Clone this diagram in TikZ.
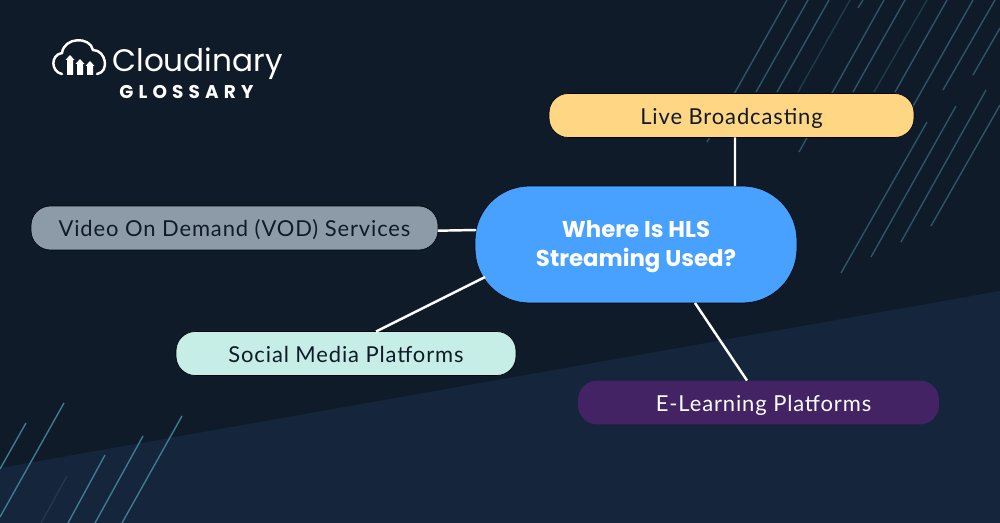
\documentclass[tikz,border=0pt]{standalone}
\usepackage{fontspec}
\setmainfont{Lato}[LetterSpace=4]
\newfontfamily\logofont{Poppins}
\newfontfamily\glossfont{Poppins}[LetterSpace=28]
\usetikzlibrary{calc}
\definecolor{nightbg}{HTML}{0F1B29}
\definecolor{bandbg}{HTML}{14253C}
\definecolor{streakcol}{HTML}{2C5567}
\definecolor{faintcol}{HTML}{1E3A4B}
\definecolor{brightcol}{HTML}{3F7B90}
\definecolor{hubcol}{HTML}{48A1FF}
\definecolor{livecol}{HTML}{FFD683}
\definecolor{vodcol}{HTML}{8D9BA8}
\definecolor{socialcol}{HTML}{C6EDE6}
\definecolor{learncol}{HTML}{432364}
\tikzset{
  streak/.style={draw=streakcol,line width=0.8pt},
  faint/.style={draw=faintcol,line width=0.8pt},
  bright/.style={draw=brightcol,line width=0.8pt},
  link/.style={draw=white,line width=1.4pt},
  pill/.style={rounded corners=11pt,draw=black!70!nightbg,line width=0.4pt,inner sep=0pt,outer sep=0pt,
    minimum height=0.88cm,text height=10pt,text depth=0pt,font=\fontsize{12.5pt}{14pt}\selectfont,text=nightbg},
  hubnode/.style={pill,text height=,text depth=,rounded corners=31pt,fill=hubcol,text=white,minimum width=6.44cm,minimum height=2.34cm,
    align=center,font=\logofont\bfseries\fontsize{13pt}{16.5pt}\selectfont},
  logoshape/.style={draw=white,line width=1.4pt,line cap=round},
  roofshape/.style={fill=white,draw=none}
}
\begin{document}
\begin{tikzpicture}[x=0.02cm,y=-0.02cm]
 \useasboundingbox (0,0) rectangle (1000,523);
 % backdrop
 \fill[nightbg] (0,0) rectangle (1000,523);
 \fill[bandbg] (0,468)--(1000,291)--(1000,523)--(0,523)--cycle;
 % streaks top right
 \draw[streak] (787,0)--(707,142);
 \draw[streak] (808,0)--(756,92);
 \draw[streak] (829,0)--(777,92);
 \draw[faint] (850,0)--(798,92);
 \draw[streak] (863,0)--(858,8);
 \draw[streak] (884,0)--(799,152);
 \draw[streak] (905,0)--(853,92);
 \draw[faint] (927,0)--(874,92);
 \draw[streak] (947,0)--(895,92);
 \draw[streak] (973,0)--(908,115);
 \draw[streak] (995,0)--(943,90);
 \draw[streak] (1000,28)--(973,75);
 \draw[streak] (927,122)--(841,273);
 \draw[streak] (956,106)--(871,257);
 \draw[streak] (986,90)--(901,242);
 \draw[streak] (1000,105)--(931,226);
 % streaks bottom left
 \draw[bright] (26,423)--(0,469);
 \draw[bright] (64,403)--(0,517);
 \draw[bright] (105,455)--(68,523);
 \draw[faint] (67,476)--(41,523);
 \draw[bright] (143,436)--(95,523);
 \draw[bright] (182,416)--(122,523);
 % logo
 \draw[logoshape] (62,74) .. controls (51,72) and (50,55) .. (62,53)
   .. controls (64,37) and (90,36) .. (93,50)
   .. controls (106,50) and (110,72) .. (97,74);
 \fill[roofshape] (70,55)--(74.5,60)--(73,60)--(73,75)--(67,75)--(67,60)--(65.5,60)--cycle;
 \fill[roofshape] (80,59)--(84.5,64)--(83,64)--(83,75)--(77,75)--(77,64)--(75.5,64)--cycle;
 \fill[roofshape] (90,61)--(94.5,66)--(93,66)--(93,75)--(87,75)--(87,66)--(85.5,66)--cycle;
 \node[text=white,font=\logofont\fontsize{17.7pt}{22pt}\selectfont,anchor=west,inner sep=0pt] (logoword) at (112,64) {Cloudinary};
 \node[text=white,font=\glossfont\bfseries\fontsize{10.5pt}{11pt}\selectfont,anchor=west,inner sep=0pt] (logosub) at (119,92.5) {GLOSSARY};
 % nodes
 \node[hubnode] (hub) at (636,244.5) {\rule{0pt}{12.5pt}Where Is HLS\\Streaming Used?};
 \node[pill,fill=livecol,minimum width=7.3cm] (live) at (731.5,115.5) {Live Broadcasting};
 \node[pill,fill=vodcol,minimum width=8.14cm] (vod) at (234.5,228) {Video On Demand (VOD) Services};
 \node[pill,fill=socialcol,minimum width=6.8cm] (social) at (346,353.5) {Social Media Platforms};
 \node[pill,fill=learncol,draw=none,text=white,minimum width=7.22cm] (learn) at (758.5,402.5) {\hspace*{0.2cm}E-Learning Platforms};
 % connectors
 \draw[link] ($(live.south)+(3.5,0)$)--($(hub.north)+(99,0)$);
 \draw[link] ($(vod.east)+(0,2.7)$)--($(hub.west)+(1,-14.5)$);
 \draw[link] ($(social.north)+(30,0)$)--($(hub.west)+(10,32.5)$);
 \draw[link] ($(learn.north)+(-11.5,0)$)--($(hub.south)+(59,0)$);
\end{tikzpicture}
\end{document}
